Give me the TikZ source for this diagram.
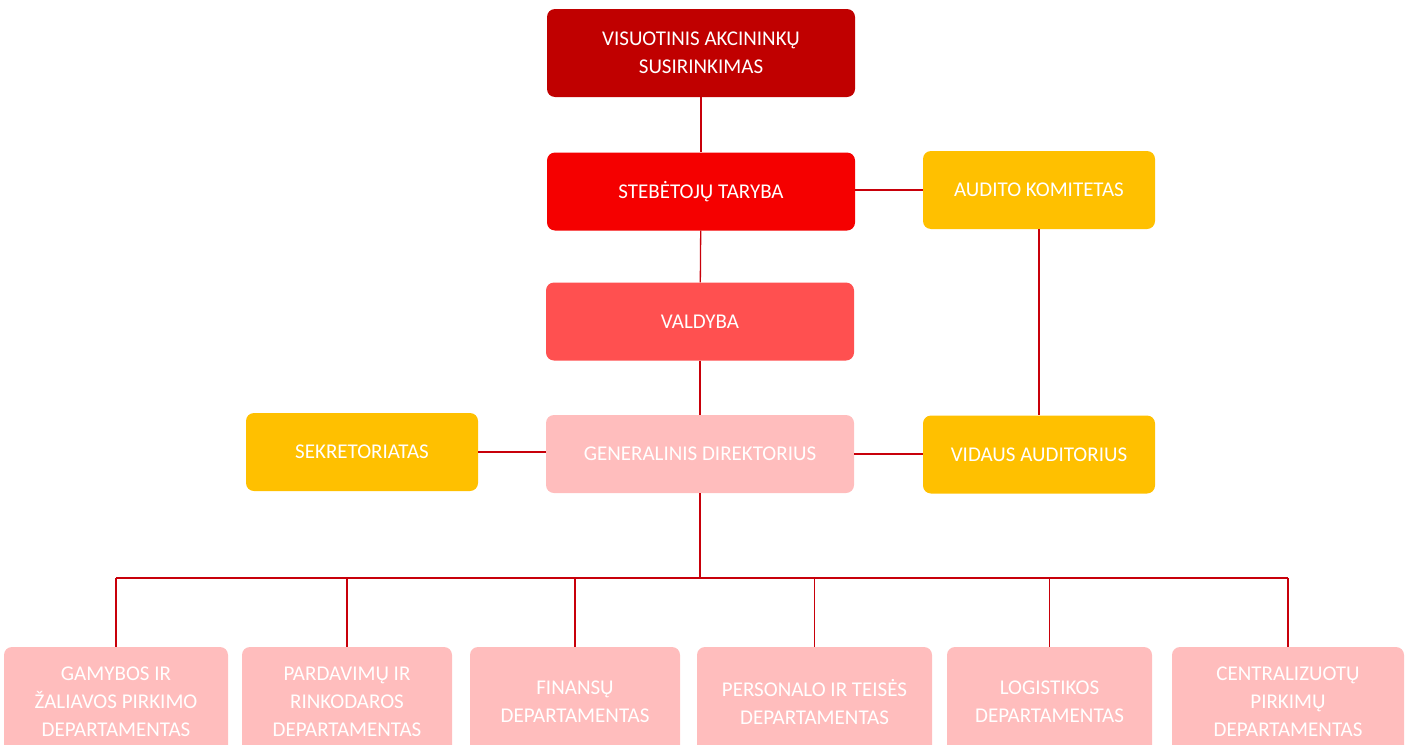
\documentclass[tikz,border=0pt]{standalone}
\usepackage{fontspec}
\setmainfont{Carlito}
\definecolor{darkred}{HTML}{C00000}
\definecolor{brightred}{HTML}{F50000}
\definecolor{midred}{HTML}{FF5050}
\definecolor{palered}{HTML}{FFBDBD}
\definecolor{amber}{HTML}{FFC000}
\definecolor{wirered}{HTML}{C8000A}
\begin{document}
\begin{tikzpicture}[x=1pt,y=-1pt]
    %
    % `unit' is the common look of every box.
    % `board' is for the wide boxes in the middle column.
    % `side' is for the yellow boxes to the left and right.
    % `dept' is for the departments at the bottom.
    \tikzstyle{unit} = [rounded corners=8pt,text=white,align=center,inner sep=0pt,font=\fontsize{21}{28}\selectfont]
    \tikzstyle{board} = [unit,minimum width=308,minimum height=78]
    \tikzstyle{side} = [unit,fill=amber,minimum width=232,minimum height=78]
    \tikzstyle{dept} = [unit,fill=palered,minimum height=110]
    \tikzstyle{wire} = [draw=wirered,line width=1.3pt]
    %
    \useasboundingbox (0,0) rectangle (1410,744);
    \clip (0,0) rectangle (1410,744);
    %
    % Middle column
    \node[board,fill=darkred,minimum height=88] (meeting) at (701,53) {VISUOTINIS AKCININKŲ\\SUSIRINKIMAS};
    \node[board,fill=brightred] (council) at (701,191.5) {STEBĖTOJŲ TARYBA};
    \node[board,fill=midred] (board) at (700,321.5) {VALDYBA};
    \node[board,fill=palered] (ceo) at (700,454) {GENERALINIS DIREKTORIUS};
    %
    % Side boxes
    \node[side] (audit) at (1039,190) {AUDITO KOMITETAS};
    \node[side] (secretariat) at (362,452) {SEKRETORIATAS};
    \node[side] (auditor) at (1039,454.5) {VIDAUS AUDITORIUS};
    %
    % Departments
    \node[dept,minimum width=224] (d1) at (116,702) {GAMYBOS IR\\ŽALIAVOS PIRKIMO\\DEPARTAMENTAS};
    \node[dept,minimum width=210] (d2) at (347,702) {PARDAVIMŲ IR\\RINKODAROS\\DEPARTAMENTAS};
    \node[dept,minimum width=210] (d3) at (575,702) {FINANSŲ\\DEPARTAMENTAS};
    \node[dept,minimum width=235] (d4) at (814.5,702) {PERSONALO IR TEISĖS\\DEPARTAMENTAS};
    \node[dept,minimum width=205] (d5) at (1049.5,702) {LOGISTIKOS\\DEPARTAMENTAS};
    \node[dept,minimum width=232] (d6) at (1288,702) {CENTRALIZUOTŲ\\PIRKIMŲ\\DEPARTAMENTAS};
    %
    % Connectors
    \draw[wire] (meeting) -- (council);
    \draw[wire] (council) -- (board);
    \draw[wire] (board) -- (ceo);
    \draw[wire] (council.east |- audit) -- (audit);
    \draw[wire] (secretariat) -- (secretariat -| ceo.west);
    \draw[wire] (ceo.east) -- (ceo.east -| auditor.west);
    \draw[wire] (audit) -- (auditor);
    %
    % Bus to the departments
    \coordinate (bus) at (700,578);
    \draw[wire] (ceo) -- (bus);
    \draw[wire] (d1.north |- bus) -- (d6.north |- bus);
    \foreach \i in {1,...,6}
        \draw[wire] (d\i.north |- bus) -- (d\i.north);
    %
\end{tikzpicture}
\end{document}
